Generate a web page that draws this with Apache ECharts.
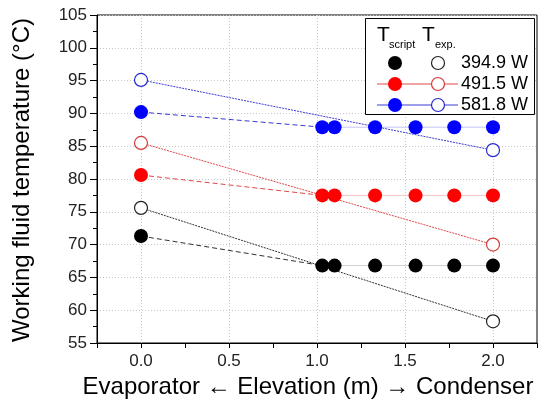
<!DOCTYPE html>
<html>
<head>
<meta charset="utf-8">
<script src="https://cdn.jsdelivr.net/npm/echarts@6/dist/echarts.min.js"></script>
<style>
  html, body { margin: 0; padding: 0; background: #fff; }
  #chart { width: 547px; height: 403px; }
</style>
</head>
<body>
<div id="chart"></div>
<script>
// elevation positions (m)
const xScript = [0, 1.03, 1.1, 1.33, 1.56, 1.78, 2.0];
const xExp = [0, 2.0];

// temperatures (degC)
const scriptLow = [71.3, 66.8, 66.8, 66.8, 66.8, 66.8, 66.8];
const expLow = [75.6, 58.3];
const scriptMid = [80.6, 77.5, 77.5, 77.5, 77.5, 77.5, 77.5];
const expMid = [85.5, 70.0];
const scriptHigh = [90.2, 87.9, 87.9, 87.9, 87.9, 87.9, 87.9];
const expHigh = [95.1, 84.4];

const powerLabels = ['394.9 W', '491.5 W', '581.8 W'];
const xGridValues = [0, 0.5, 1.0, 1.5, 2.0];

const FONT = '"Liberation Sans", Arial, sans-serif';

const styles = [
    {fill: '#000000', open: '#222222', line: '#333333', faint: '#d0d0d0'},
    {fill: '#ff0000', open: '#d43a3a', line: '#e04848', faint: '#f6c4c4'},
    {fill: '#0000ff', open: '#2a2ad0', line: '#3a3ad6', faint: '#c4c4f6'}
];

const groups = [
    {script: scriptLow, exp: expLow},
    {script: scriptMid, exp: expMid},
    {script: scriptHigh, exp: expHigh}
];

function pairs(xs, ys) {
    return xs.map((x, i) => [x, ys[i]]);
}

const series = [];
groups.forEach((g, k) => {
    const st = styles[k];
    const sPts = pairs(xScript, g.script);
    const ePts = pairs(xExp, g.exp);
    // faint line joining the condenser-side points
    series.push({
        type: 'line', data: sPts.slice(1), symbol: 'none', silent: true, z: 2,
        lineStyle: {color: st.faint, width: 1}
    });
    // dashed line from evaporator point
    series.push({
        type: 'line', data: sPts.slice(0, 2), symbol: 'none', silent: true, z: 2,
        lineStyle: {color: st.line, width: 1, type: [5, 3]}
    });
    // thin dotted line joining experimental points
    series.push({
        type: 'line', data: ePts, symbol: 'none', silent: true, z: 2,
        lineStyle: {color: st.line, width: 1, type: [2, 1]}
    });
});
groups.forEach((g, k) => {
    const st = styles[k];
    series.push({
        type: 'scatter', data: pairs(xScript, g.script), symbol: 'circle', symbolSize: 14, z: 4,
        itemStyle: {color: st.fill, borderWidth: 0, opacity: 1}
    });
    series.push({
        type: 'scatter', data: pairs(xExp, g.exp), symbol: 'circle', symbolSize: 13, z: 4,
        itemStyle: {color: '#ffffff', borderColor: st.open, borderWidth: 1.2, opacity: 1}
    });
});

// vertical dotted grid lines at the labelled x positions
series[0].markLine = {
    silent: true, symbol: ['none', 'none'], label: {show: false}, z: 1,
    lineStyle: {color: '#c8c8c8', width: 1, type: [1, 2]},
    data: xGridValues.map(v => ({xAxis: v}))
};

// legend drawn as graphics
const legendRows = [63, 84, 105];
const legend = [
    {type: 'rect', shape: {x: 365.5, y: 18.5, width: 169, height: 96},
     style: {fill: '#fff', stroke: '#000', lineWidth: 1}, z: 10},
    {type: 'text', x: 377, y: 25, z: 11, style: {text: 'T', font: '21px ' + FONT, fill: '#000'}},
    {type: 'text', x: 389, y: 39, z: 11, style: {text: 'script', font: '11px ' + FONT, fill: '#000'}},
    {type: 'text', x: 422, y: 25, z: 11, style: {text: 'T', font: '21px ' + FONT, fill: '#000'}},
    {type: 'text', x: 435, y: 39, z: 11, style: {text: 'exp.', font: '11px ' + FONT, fill: '#000'}}
];
powerLabels.forEach((lab, k) => {
    const st = styles[k];
    const y = legendRows[k];
    if (k > 0) {
        legend.push({type: 'line', z: 11, shape: {x1: 377, y1: y, x2: 458, y2: y},
            style: {stroke: st.line, lineWidth: 1}});
    }
    legend.push({type: 'circle', z: 12, shape: {cx: 395, cy: y, r: 7}, style: {fill: st.fill}});
    legend.push({type: 'circle', z: 12, shape: {cx: 438, cy: y, r: 6.5},
        style: {fill: '#fff', stroke: st.open, lineWidth: 1.2}});
    legend.push({type: 'text', z: 12, x: 461, y: y, style: {text: lab, font: '18px ' + FONT,
        fill: '#000', verticalAlign: 'middle'}});
});

const chart = echarts.init(document.getElementById('chart'), null, {renderer: 'canvas'});
chart.setOption({
    backgroundColor: '#fff',
    animation: false,
    grid: {left: 97, right: 10, top: 15, bottom: 60, show: true, borderColor: '#000', borderWidth: 1,
        backgroundColor: 'transparent'},
    xAxis: {
        type: 'value', min: -0.25, max: 2.25, interval: 0.25,
        axisLine: {show: true, onZero: false, lineStyle: {color: '#000', width: 1}},
        axisTick: {show: true, inside: false, length: 5, lineStyle: {color: '#000'}},
        splitLine: {show: false},
        axisLabel: {
            margin: 10, fontSize: 17, fontFamily: FONT, color: '#222',
            formatter: function (v) {
                const d = Math.round(v * 100) / 100;
                if (d < 0 || d > 2) return '';
                if (Math.abs(d * 2 - Math.round(d * 2)) > 1e-6) return '';
                return d.toFixed(1);
            }
        }
    },
    yAxis: {
        type: 'value', min: 55, max: 105, interval: 5,
        axisLine: {show: true, onZero: false, lineStyle: {color: '#000', width: 1}},
        axisTick: {show: true, inside: false, length: 7, lineStyle: {color: '#000'}},
        minorTick: {show: true, splitNumber: 2, length: 4, lineStyle: {color: '#000'}},
        splitLine: {show: true, lineStyle: {color: '#c8c8c8', width: 1, type: [1, 2]}},
        axisLabel: {margin: 10, fontSize: 17, fontFamily: FONT, color: '#222'}
    },
    series: series,
    graphic: legend.concat([
        {type: 'text', x: 22, y: 180, rotation: Math.PI / 2, z: 5,
         style: {text: 'Working fluid temperature (°C)', font: '24px ' + FONT, fill: '#000',
                 align: 'center', verticalAlign: 'middle'}},
        {type: 'text', x: 308, y: 387, z: 5,
         style: {text: 'Evaporator \u2190 Elevation (m) \u2192 Condenser', font: '24px ' + FONT, fill: '#000',
                 align: 'center', verticalAlign: 'middle'}}
    ])
});
</script>
</body>
</html>
